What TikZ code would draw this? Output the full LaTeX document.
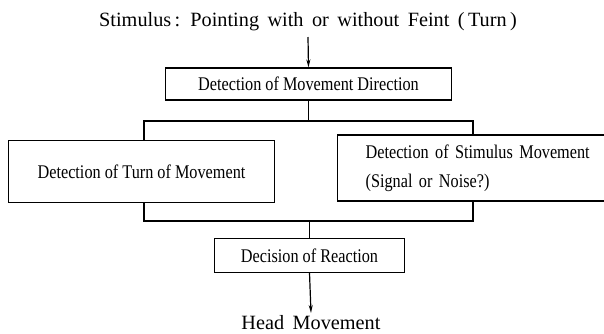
\documentclass[tikz,border=0pt]{standalone}
\usepackage{fontspec}
\setmainfont{Liberation Serif}
\newfontfamily\narrowfont[FakeStretch=0.84]{Liberation Serif}
\usetikzlibrary{arrows.meta, positioning}

\begin{document}
\begin{tikzpicture}[x=0.75pt, y=-0.75pt, line width=0.9pt,
    box/.style={draw, font=\narrowfont\fontsize{14.5}{17}\selectfont, inner sep=0pt},
    big/.style={font=\fontsize{15.2}{17}\selectfont}]
    \useasboundingbox (0,0) rectangle (604,333);

    \node[big, anchor=base] (stim) at (308,26) {Stimulus\,:\, Pointing\, with\, or\, without\, Feint\, (\,Turn\,)};
    \coordinate (stimend) at (308,37);

    \node[box, minimum width=215pt, minimum height=24pt] (dir) at (308.5,84) {Detection of Movement Direction};
    \node[box, minimum width=200pt, minimum height=47pt] (turn) at (141.5,171.5) {Detection of Turn of Movement};
    \node[box, anchor=west, minimum height=49.5pt, inner xsep=21pt, text width=170pt, align=left] (sig) at (337,168)
        {Detection of Stimulus Movement\\[5pt](Signal or Noise?)};
    \node[box, minimum width=143pt, minimum height=25pt] (dec) at (309.5,255.5) {Decision of Reaction};
    \node[big, anchor=base, inner sep=1pt] (head) at (311,329) {Head\, Movement};

    \coordinate (tl) at (144,121);
    \coordinate (tr) at (473,121);
    \coordinate (bl) at (144,221);
    \coordinate (br) at (473,221);

    \draw[-{Stealth[length=6pt, width=3pt]}] (stimend) -- (dir.north);
    \draw (dir.south) -- (dir.south |- tl);
    \draw (tl |- turn.north) -- (tl) -- (tr) -- (tr |- sig.north);
    \draw (bl |- turn.south) -- (bl) -- (br) -- (br |- sig.south);
    \draw (dec.north |- bl) -- (dec.north);
    \draw[-{Stealth[length=6pt, width=3pt]}] (dec.south) -- (head.north);
\end{tikzpicture}
\end{document}
